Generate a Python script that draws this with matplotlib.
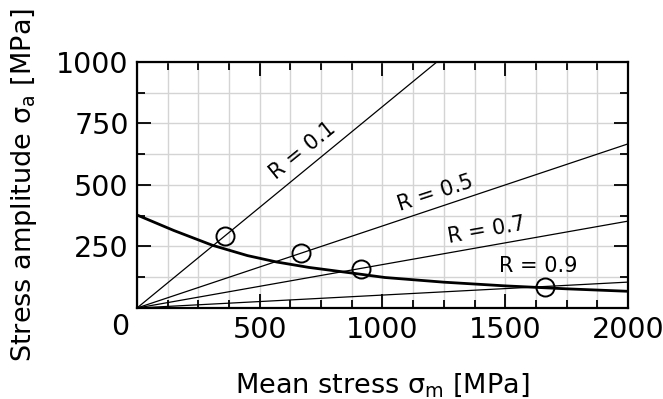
import numpy as np
import matplotlib
matplotlib.use("Agg")
import matplotlib.pyplot as plt
from matplotlib.ticker import MultipleLocator, FuncFormatter

# Stress ratios of the constant-R load lines
r_values = [0.1, 0.5, 0.7, 0.9]
r_labels = ["R = 0.1", "R = 0.5", "R = 0.7", "R = 0.9"]
label_x = [676, 1214, 1425, 1633]
label_y = [641, 465, 314, 171]
label_rot = [39, 18, 10, 0]

# Fatigue-limit curve (mean stress vs. stress amplitude)
curve_sm = [0, 150, 307, 450, 569, 700, 861, 1010, 1250, 1500, 1750, 2000]
curve_sa = [378, 315, 255, 213, 187, 165, 144, 124, 105, 90, 78, 68]

# Measured points
pts_sm = [358, 668, 911, 1662]
pts_sa = [293, 223, 160, 87]

fig = plt.figure(figsize=(6.63, 3.99), dpi=100)
ax = fig.add_axes([0.2066, 0.228, 0.7405, 0.617])

x_line = np.array([0, 2000])
for r in r_values:
    ax.plot(x_line, x_line * (1 - r) / (1 + r), color="black", lw=0.9, zorder=3)

ax.plot(curve_sm, curve_sa, color="black", lw=2.0, zorder=4)
ax.plot(pts_sm, pts_sa, linestyle="none", marker="o", markersize=13,
        markerfacecolor="none", markeredgecolor="black", markeredgewidth=1.4, zorder=5)

for txt, x, y, rot in zip(r_labels, label_x, label_y, label_rot):
    ax.text(x, y, txt, fontsize=15, rotation=rot, ha="center", va="center",
            rotation_mode="anchor", zorder=6)

ax.set_xlim(0, 2000)
ax.set_ylim(0, 1000)
ax.xaxis.set_major_locator(MultipleLocator(500))
ax.xaxis.set_minor_locator(MultipleLocator(125))
ax.yaxis.set_major_locator(MultipleLocator(250))
ax.yaxis.set_minor_locator(MultipleLocator(125))
ax.grid(which="both", color="#d4d4d4", lw=1.0, zorder=0)
ax.set_axisbelow(True)

# the zero is shared by both axes and drawn once at the corner
hide_zero = FuncFormatter(lambda v, pos: "" if v == 0 else f"{int(v)}")
ax.xaxis.set_major_formatter(hide_zero)
ax.yaxis.set_major_formatter(hide_zero)
ax.annotate("0", xy=(0, 0), xycoords="data", xytext=(-12, -14),
            textcoords="offset points", ha="center", va="center", fontsize=20.5)

ax.tick_params(which="both", direction="in", top=True, right=True, width=1.3)
ax.tick_params(which="major", length=10, labelsize=20.5, pad=6)
ax.tick_params(which="minor", length=6)
for s in ax.spines.values():
    s.set_linewidth(1.6)

ax.set_xlabel("Mean stress σ$_\\mathregular{m}$ [MPa]", fontsize=19.5, labelpad=19)
ax.set_ylabel("Stress amplitude σ$_\\mathregular{a}$ [MPa]", fontsize=19.5, labelpad=12)

fig.savefig("out.png", dpi=100)
